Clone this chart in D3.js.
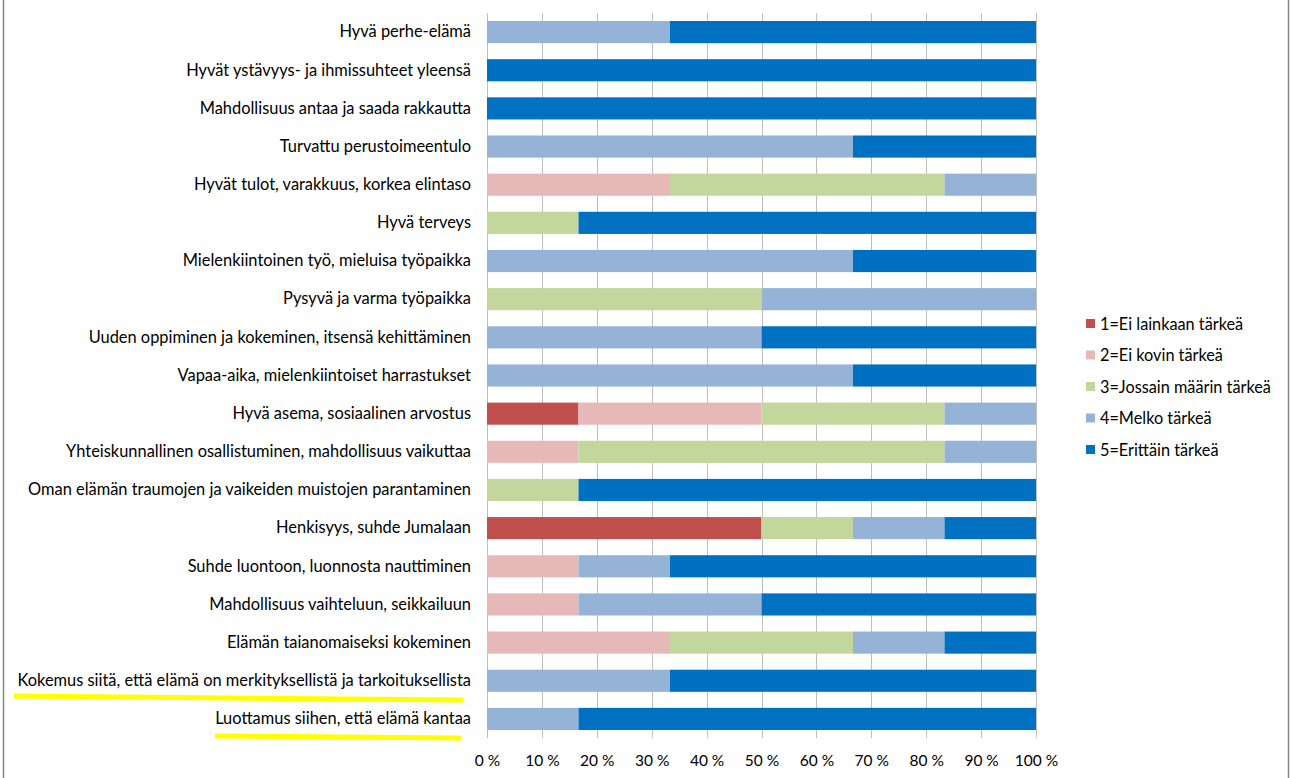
<!DOCTYPE html>
<html>
<head>
<meta charset="utf-8">
<script src="https://cdn.jsdelivr.net/npm/d3@7/dist/d3.min.js"></script>
<style>
  html, body { margin: 0; padding: 0; background: #fff; }
  svg { display: block; }
  text { font-family: Lato, "Open Sans", sans-serif; fill: #000; }
</style>
</head>
<body>
<svg id="chart" width="1290" height="778"></svg>
<script>
// Importance ratings of life values (counts of respondents, n = 6)
const categories = [
  "Hyvä perhe-elämä",
  "Hyvät ystävyys- ja ihmissuhteet yleensä",
  "Mahdollisuus antaa ja saada rakkautta",
  "Turvattu perustoimeentulo",
  "Hyvät tulot, varakkuus, korkea elintaso",
  "Hyvä terveys",
  "Mielenkiintoinen työ, mieluisa työpaikka",
  "Pysyvä ja varma työpaikka",
  "Uuden oppiminen ja kokeminen, itsensä kehittäminen",
  "Vapaa-aika, mielenkiintoiset harrastukset",
  "Hyvä asema, sosiaalinen arvostus",
  "Yhteiskunnallinen osallistuminen, mahdollisuus vaikuttaa",
  "Oman elämän traumojen ja vaikeiden muistojen parantaminen",
  "Henkisyys, suhde Jumalaan",
  "Suhde luontoon, luonnosta nauttiminen",
  "Mahdollisuus vaihteluun, seikkailuun",
  "Elämän taianomaiseksi kokeminen",
  "Kokemus siitä, että elämä on merkityksellistä ja tarkoituksellista",
  "Luottamus siihen, että elämä kantaa"
];
const seriesNames = [
  "1=Ei lainkaan tärkeä",
  "2=Ei kovin tärkeä",
  "3=Jossain määrin tärkeä",
  "4=Melko tärkeä",
  "5=Erittäin tärkeä"
];
const s1 = [0,0,0,0,0,0,0,0,0,0,1,0,0,3,0,0,0,0,0];
const s2 = [0,0,0,0,2,0,0,0,0,0,2,1,0,0,1,1,2,0,0];
const s3 = [0,0,0,0,3,1,0,3,0,0,2,4,1,1,0,0,2,0,0];
const s4 = [2,0,0,4,1,0,4,3,3,4,1,1,0,1,1,2,1,2,1];
const s5 = [4,6,6,2,0,5,2,0,3,2,0,0,5,1,4,3,1,4,5];
const tickValues = [0,0.1,0.2,0.3,0.4,0.5,0.6,0.7,0.8,0.9,1];
const highlighted = [
  "Kokemus siitä, että elämä on merkityksellistä ja tarkoituksellista",
  "Luottamus siihen, että elämä kantaa"
];
const colors = ["#c0504d", "#e6b9b8", "#c3d69b", "#95b3d7", "#0070c0"];

const svg = d3.select("#chart");
const plot = { left: 487, right: 1036, top: 13, bottom: 738 };
const FONT = "Lato, \"Open Sans\", sans-serif";

const x = d3.scaleLinear().domain([0, 1]).range([plot.left, plot.right]);
const y = d3.scaleBand().domain(categories).range([plot.top, plot.bottom]).paddingInner(0.42).paddingOuter(0.21);

// outer frame edges
svg.append("line").attr("x1", 3.5).attr("x2", 3.5).attr("y1", 0).attr("y2", 778)
  .attr("stroke", "#868686").attr("stroke-width", 1.5);
svg.append("line").attr("x1", 1288.5).attr("x2", 1288.5).attr("y1", 0).attr("y2", 778)
  .attr("stroke", "#868686").attr("stroke-width", 1.5);

// vertical gridlines
svg.append("g").selectAll("line").data(tickValues).join("line")
  .attr("x1", d => Math.round(x(d)) + 0.5).attr("x2", d => Math.round(x(d)) + 0.5)
  .attr("y1", plot.top).attr("y2", plot.bottom)
  .attr("stroke", "#bfbfbf").attr("stroke-width", 1);

// stacked shares
const rows = categories.map((c, i) => {
  const vals = [s1[i], s2[i], s3[i], s4[i], s5[i]];
  const total = d3.sum(vals);
  const o = { category: c };
  vals.forEach((v, k) => { o[seriesNames[k]] = v / total; });
  return o;
});
const stacked = d3.stack().keys(seriesNames)(rows);

svg.append("g").selectAll("g").data(stacked).join("g")
  .attr("fill", (d, i) => colors[i])
  .selectAll("rect").data(d => d).join("rect")
  .attr("x", d => x(d[0]))
  .attr("width", d => x(d[1]) - x(d[0]))
  .attr("y", d => y(d.data.category))
  .attr("height", y.bandwidth());

// x axis tick labels
const xAxis = d3.axisBottom(x).tickValues(tickValues).tickSize(0).tickPadding(0)
  .tickFormat(d => Math.round(d * 100) + " %");
const gx = svg.append("g").attr("transform", `translate(0,${plot.bottom + 17})`).call(xAxis);
gx.select(".domain").remove();
gx.selectAll("text").style("font-size", "15.5px").attr("fill", "#000")
  .style("font-family", FONT);

// category labels, sized so the longest one spans the label column
const yAxis = d3.axisLeft(y).tickSize(0).tickPadding(16);
const gy = svg.append("g").attr("transform", `translate(${plot.left},0)`).call(yAxis);
gy.select(".domain").remove();
const labels = gy.selectAll("text").style("font-family", FONT).attr("fill", "#000")
  .style("font-size", "10px");
const widest = d3.max(labels.nodes(), n => n.getComputedTextLength());
labels.style("font-size", (10 * 454 / widest) + "px");

// yellow highlight strokes under selected labels
const hl = [
  { cat: highlighted[0], x1: 14, x2: 463, y1: 696, y2: 700 },
  { cat: highlighted[1], x1: 215, x2: 461, y1: 736, y2: 738 }
];
svg.append("g").selectAll("line").data(hl).join("line")
  .attr("x1", d => d.x1).attr("x2", d => d.x2)
  .attr("y1", d => d.y1).attr("y2", d => d.y2)
  .attr("stroke", "#ffff00").attr("stroke-width", 5);

// legend
const legend = svg.append("g").attr("transform", "translate(1086,324)");
const li = legend.selectAll("g").data(seriesNames).join("g")
  .attr("transform", (d, i) => `translate(0,${i * 31.5})`);
li.append("rect").attr("x", 0).attr("y", -5).attr("width", 9).attr("height", 9)
  .attr("fill", (d, i) => colors[i]);
const lt = li.append("text").attr("x", 14).attr("y", 0).attr("dy", "0.35em")
  .style("font-family", FONT).style("font-size", "10px").text(d => d);
const lw = d3.max(lt.nodes(), n => n.getComputedTextLength());
lt.style("font-size", (10 * 171 / lw) + "px");
</script>
</body>
</html>
